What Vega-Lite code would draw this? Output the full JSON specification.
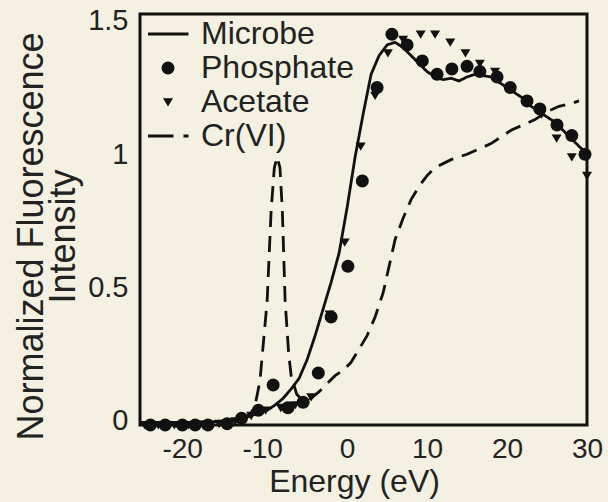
{
  "$schema": "https://vega.github.io/schema/vega-lite/v6.json",
  "autosize": "none",
  "width": 447,
  "height": 411,
  "padding": {"left": 140, "top": 14, "right": 21, "bottom": 77},
  "background": "#f4f1e3",
  "config": {
    "view": {"stroke": "#111", "strokeWidth": 3},
    "font": "Liberation Sans"
  },
  "datasets": {
    "lines": [
      {"series": "Microbe", "E": -25.8, "I": -0.005},
      {"series": "Microbe", "E": -22, "I": -0.005},
      {"series": "Microbe", "E": -18, "I": -0.005},
      {"series": "Microbe", "E": -15, "I": 0.0},
      {"series": "Microbe", "E": -13, "I": 0.01},
      {"series": "Microbe", "E": -12, "I": 0.02},
      {"series": "Microbe", "E": -10, "I": 0.04},
      {"series": "Microbe", "E": -9, "I": 0.06},
      {"series": "Microbe", "E": -8, "I": 0.085},
      {"series": "Microbe", "E": -7, "I": 0.12},
      {"series": "Microbe", "E": -6, "I": 0.16},
      {"series": "Microbe", "E": -5, "I": 0.23},
      {"series": "Microbe", "E": -4, "I": 0.32},
      {"series": "Microbe", "E": -3, "I": 0.42},
      {"series": "Microbe", "E": -2, "I": 0.52},
      {"series": "Microbe", "E": -1, "I": 0.63},
      {"series": "Microbe", "E": 0, "I": 0.8},
      {"series": "Microbe", "E": 1, "I": 0.99},
      {"series": "Microbe", "E": 2, "I": 1.15},
      {"series": "Microbe", "E": 3, "I": 1.3},
      {"series": "Microbe", "E": 4, "I": 1.37},
      {"series": "Microbe", "E": 5, "I": 1.41},
      {"series": "Microbe", "E": 6, "I": 1.42},
      {"series": "Microbe", "E": 7, "I": 1.4},
      {"series": "Microbe", "E": 8, "I": 1.37},
      {"series": "Microbe", "E": 9, "I": 1.34},
      {"series": "Microbe", "E": 10, "I": 1.31},
      {"series": "Microbe", "E": 11, "I": 1.29},
      {"series": "Microbe", "E": 12, "I": 1.28},
      {"series": "Microbe", "E": 13, "I": 1.285},
      {"series": "Microbe", "E": 14, "I": 1.275},
      {"series": "Microbe", "E": 15, "I": 1.29},
      {"series": "Microbe", "E": 16, "I": 1.3},
      {"series": "Microbe", "E": 17, "I": 1.295},
      {"series": "Microbe", "E": 18, "I": 1.29},
      {"series": "Microbe", "E": 19, "I": 1.27},
      {"series": "Microbe", "E": 20, "I": 1.25},
      {"series": "Microbe", "E": 21, "I": 1.23},
      {"series": "Microbe", "E": 22, "I": 1.21},
      {"series": "Microbe", "E": 23, "I": 1.18},
      {"series": "Microbe", "E": 24, "I": 1.16},
      {"series": "Microbe", "E": 25, "I": 1.14},
      {"series": "Microbe", "E": 26, "I": 1.12},
      {"series": "Microbe", "E": 27, "I": 1.09},
      {"series": "Microbe", "E": 28, "I": 1.06},
      {"series": "Microbe", "E": 29, "I": 1.03},
      {"series": "Microbe", "E": 30, "I": 1.0},
      {"series": "Cr(VI)", "E": -25.8, "I": -0.005},
      {"series": "Cr(VI)", "E": -20, "I": -0.005},
      {"series": "Cr(VI)", "E": -15, "I": 0.0},
      {"series": "Cr(VI)", "E": -13, "I": 0.01},
      {"series": "Cr(VI)", "E": -12, "I": 0.03},
      {"series": "Cr(VI)", "E": -11.5, "I": 0.06},
      {"series": "Cr(VI)", "E": -10.9, "I": 0.15},
      {"series": "Cr(VI)", "E": -10, "I": 0.45},
      {"series": "Cr(VI)", "E": -9.5, "I": 0.79},
      {"series": "Cr(VI)", "E": -9.1, "I": 0.95},
      {"series": "Cr(VI)", "E": -8.75, "I": 0.99},
      {"series": "Cr(VI)", "E": -8.4, "I": 0.95},
      {"series": "Cr(VI)", "E": -8.1, "I": 0.79},
      {"series": "Cr(VI)", "E": -7.75, "I": 0.45},
      {"series": "Cr(VI)", "E": -7.3, "I": 0.25},
      {"series": "Cr(VI)", "E": -7.0, "I": 0.17},
      {"series": "Cr(VI)", "E": -6.3, "I": 0.1},
      {"series": "Cr(VI)", "E": -5.5, "I": 0.075},
      {"series": "Cr(VI)", "E": -4.5, "I": 0.085},
      {"series": "Cr(VI)", "E": -3.5, "I": 0.11},
      {"series": "Cr(VI)", "E": -2.5, "I": 0.14},
      {"series": "Cr(VI)", "E": -1.5, "I": 0.17},
      {"series": "Cr(VI)", "E": -0.5, "I": 0.19},
      {"series": "Cr(VI)", "E": 0.5, "I": 0.22},
      {"series": "Cr(VI)", "E": 1.5, "I": 0.27},
      {"series": "Cr(VI)", "E": 2.5, "I": 0.32},
      {"series": "Cr(VI)", "E": 3.5, "I": 0.39},
      {"series": "Cr(VI)", "E": 4.5, "I": 0.48},
      {"series": "Cr(VI)", "E": 5.25, "I": 0.58},
      {"series": "Cr(VI)", "E": 6, "I": 0.68},
      {"series": "Cr(VI)", "E": 7, "I": 0.76},
      {"series": "Cr(VI)", "E": 8, "I": 0.83},
      {"series": "Cr(VI)", "E": 9, "I": 0.88},
      {"series": "Cr(VI)", "E": 10, "I": 0.92},
      {"series": "Cr(VI)", "E": 11, "I": 0.95},
      {"series": "Cr(VI)", "E": 12, "I": 0.965},
      {"series": "Cr(VI)", "E": 13, "I": 0.98},
      {"series": "Cr(VI)", "E": 14, "I": 0.99},
      {"series": "Cr(VI)", "E": 15, "I": 1.0},
      {"series": "Cr(VI)", "E": 16.5, "I": 1.02},
      {"series": "Cr(VI)", "E": 18, "I": 1.04},
      {"series": "Cr(VI)", "E": 19, "I": 1.06},
      {"series": "Cr(VI)", "E": 20.5, "I": 1.09},
      {"series": "Cr(VI)", "E": 22, "I": 1.11},
      {"series": "Cr(VI)", "E": 23.5, "I": 1.13},
      {"series": "Cr(VI)", "E": 25, "I": 1.16},
      {"series": "Cr(VI)", "E": 26.5, "I": 1.18},
      {"series": "Cr(VI)", "E": 28, "I": 1.19},
      {"series": "Cr(VI)", "E": 29, "I": 1.2}
    ],
    "points": [
      {"series": "Phosphate", "E": -24.6, "I": -0.015},
      {"series": "Phosphate", "E": -22.75, "I": -0.015},
      {"series": "Phosphate", "E": -20.6, "I": -0.015},
      {"series": "Phosphate", "E": -19, "I": -0.015},
      {"series": "Phosphate", "E": -17.4, "I": -0.015},
      {"series": "Phosphate", "E": -15, "I": -0.01},
      {"series": "Phosphate", "E": -13.2, "I": 0.01},
      {"series": "Phosphate", "E": -11.1, "I": 0.04},
      {"series": "Phosphate", "E": -9.25, "I": 0.135},
      {"series": "Phosphate", "E": -7.4, "I": 0.05},
      {"series": "Phosphate", "E": -5.5, "I": 0.07},
      {"series": "Phosphate", "E": -3.6, "I": 0.18},
      {"series": "Phosphate", "E": -2.0, "I": 0.39},
      {"series": "Phosphate", "E": 0.1, "I": 0.58},
      {"series": "Phosphate", "E": 1.9, "I": 0.9},
      {"series": "Phosphate", "E": 3.75, "I": 1.25},
      {"series": "Phosphate", "E": 5.6, "I": 1.45},
      {"series": "Phosphate", "E": 7.5, "I": 1.41},
      {"series": "Phosphate", "E": 9.4, "I": 1.35},
      {"series": "Phosphate", "E": 11.25, "I": 1.3},
      {"series": "Phosphate", "E": 13.1, "I": 1.32},
      {"series": "Phosphate", "E": 15, "I": 1.33},
      {"series": "Phosphate", "E": 16.6, "I": 1.31},
      {"series": "Phosphate", "E": 18.75, "I": 1.29},
      {"series": "Phosphate", "E": 20.4, "I": 1.25},
      {"series": "Phosphate", "E": 22.5, "I": 1.2},
      {"series": "Phosphate", "E": 24.1, "I": 1.17},
      {"series": "Phosphate", "E": 26.25, "I": 1.11},
      {"series": "Phosphate", "E": 28.1, "I": 1.07},
      {"series": "Phosphate", "E": 29.75, "I": 1.0},
      {"series": "Acetate", "E": -25.3, "I": -0.015},
      {"series": "Acetate", "E": -23.6, "I": -0.015},
      {"series": "Acetate", "E": -21.6, "I": -0.015},
      {"series": "Acetate", "E": -19.8, "I": -0.015},
      {"series": "Acetate", "E": -18, "I": -0.015},
      {"series": "Acetate", "E": -16, "I": -0.01},
      {"series": "Acetate", "E": -14, "I": 0.0},
      {"series": "Acetate", "E": -12, "I": 0.02},
      {"series": "Acetate", "E": -10.2, "I": 0.04},
      {"series": "Acetate", "E": -8.3, "I": 0.05},
      {"series": "Acetate", "E": -6.5, "I": 0.06},
      {"series": "Acetate", "E": -4.5, "I": 0.09},
      {"series": "Acetate", "E": -2.2, "I": 0.4},
      {"series": "Acetate", "E": -0.3, "I": 0.67},
      {"series": "Acetate", "E": 1.7, "I": 1.03},
      {"series": "Acetate", "E": 3.5, "I": 1.22},
      {"series": "Acetate", "E": 5.1, "I": 1.38},
      {"series": "Acetate", "E": 7.0, "I": 1.43},
      {"series": "Acetate", "E": 9.2, "I": 1.45},
      {"series": "Acetate", "E": 11, "I": 1.45},
      {"series": "Acetate", "E": 12.9, "I": 1.42},
      {"series": "Acetate", "E": 14.8, "I": 1.38},
      {"series": "Acetate", "E": 16.6, "I": 1.34},
      {"series": "Acetate", "E": 18.5, "I": 1.31},
      {"series": "Acetate", "E": 20.4, "I": 1.25},
      {"series": "Acetate", "E": 22.5, "I": 1.2},
      {"series": "Acetate", "E": 24.3, "I": 1.15},
      {"series": "Acetate", "E": 26.2, "I": 1.06},
      {"series": "Acetate", "E": 28.1, "I": 0.99},
      {"series": "Acetate", "E": 30, "I": 0.92}
    ]
  },
  "encoding": {
    "x": {
      "field": "E",
      "type": "quantitative",
      "scale": {"domain": [-25.9, 30], "nice": false, "zero": false},
      "axis": {
        "values": [-20, -10, 0, 10, 20, 30],
        "ticks": false,
        "tickSize": 0,
        "domain": false,
        "grid": false,
        "labelFlush": false,
        "labelOverlap": false,
        "labelFontSize": 28,
        "labelColor": "#222",
        "labelPadding": 10,
        "labelExpr": "datum.value + ''",
        "labelOffset": {"condition": {"test": "datum.value < 0", "value": -5}, "value": 0},
        "title": "Energy (eV)",
        "titleFontSize": 32,
        "titleFontWeight": "normal",
        "titleColor": "#222",
        "titleX": 214,
        "titleY": 66,
        "titleAlign": "center",
        "titleBaseline": "alphabetic"
      }
    },
    "y": {
      "field": "I",
      "type": "quantitative",
      "scale": {"domain": [-0.015, 1.526], "nice": false, "zero": false},
      "axis": {
        "values": [0, 0.5, 1, 1.5],
        "ticks": false,
        "tickSize": 0,
        "domain": false,
        "grid": false,
        "labelFontSize": 29,
        "labelColor": "#222",
        "labelPadding": 12,
        "labelExpr": "datum.value + ''",
        "title": ["Normalized Fluorescence", "Intensity"],
        "titleFontSize": 36,
        "titleFontWeight": "normal",
        "titleColor": "#222",
        "titleAngle": -90,
        "titleX": -98,
        "titleY": 222,
        "titleAlign": "center",
        "titleBaseline": "alphabetic",
        "titleLineHeight": 32
      }
    }
  },
  "layer": [
    {
      "data": {"name": "lines"},
      "mark": {"type": "line", "color": "#111", "strokeWidth": 2.8},
      "encoding": {
        "detail": {"field": "series"},
        "strokeDash": {
          "field": "series",
          "type": "nominal",
          "scale": {"domain": ["Microbe", "Cr(VI)"], "range": [[1, 0], [16, 9]]},
          "legend": null
        }
      }
    },
    {
      "data": {"name": "points"},
      "mark": {"type": "point", "filled": true, "color": "#111", "size": 400, "opacity": 1},
      "encoding": {
        "shape": {
          "field": "series",
          "type": "nominal",
          "scale": {
            "domain": ["Microbe", "Phosphate", "Acetate", "Cr(VI)"],
            "range": [
              "M-2,-0.14L2.05,-0.14L2.05,0.14L-2,0.14Z",
              "M0.65,0L0.6,0.249L0.46,0.46L0.249,0.6L0,0.65L-0.249,0.6L-0.46,0.46L-0.6,0.249L-0.65,0L-0.6,-0.249L-0.46,-0.46L-0.249,-0.6L0,-0.65L0.249,-0.6L0.46,-0.46L0.6,-0.249Z",
              "M-0.5,-0.38L0.5,-0.38L0,0.45Z",
              "M-2,-0.14L0.55,-0.14L0.55,0.14L-2,0.14ZM1.55,-0.14L2.05,-0.14L2.05,0.14L1.55,0.14Z"
            ]
          },
          "legend": {
            "title": null,
            "orient": "none",
            "legendX": 12,
            "legendY": 4,
            "padding": 0,
            "labelOffset": 17,
            "labelFontSize": 32,
            "labelColor": "#222",
            "labelFont": "Liberation Sans",
            "rowPadding": 2,
            "symbolSize": 400,
            "symbolFillColor": "#111",
            "encode": {
              "symbols": {
                "update": {
                  "fill": {"value": "#111"},
                  "opacity": {"value": 1}
                }
              }
            }
          }
        }
      }
    }
  ]
}
